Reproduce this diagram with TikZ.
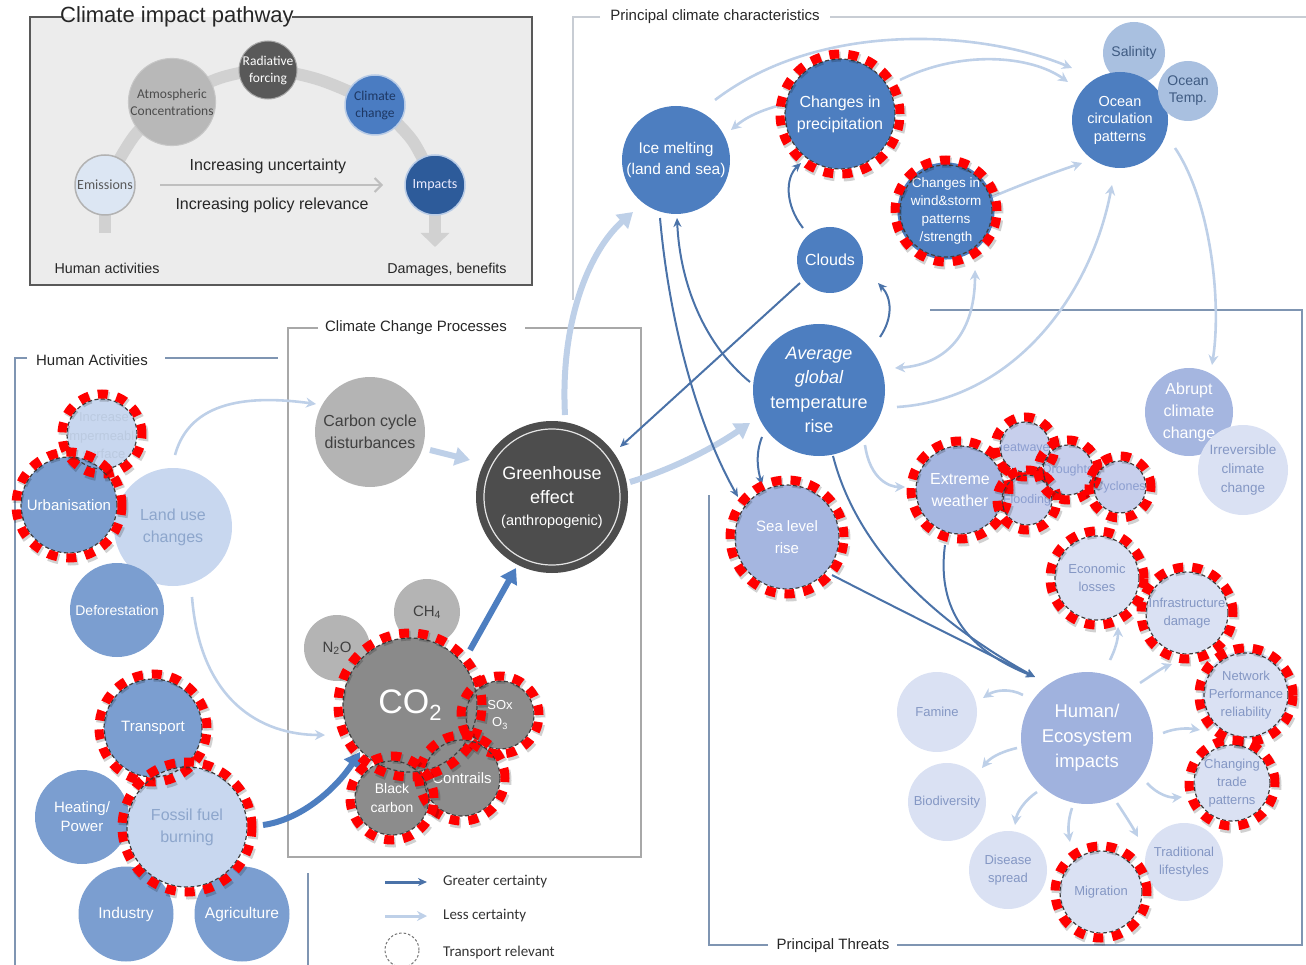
\documentclass[tikz,border=0pt]{standalone}
\usepackage{fontspec}
\setmainfont{Liberation Sans}
\newfontfamily\calfont{Carlito}
\usetikzlibrary{arrows.meta,calc}
\pgfdeclarelayer{bg}
\pgfsetlayers{bg,main}
\newcommand\fs[2]{\fontsize{#1}{#2}\selectfont}
\definecolor{mblue}{HTML}{7B9ED0}
\definecolor{lblue}{HTML}{C8D7EF}
\definecolor{ltxt}{HTML}{8DA6CC}
\definecolor{sblue}{HTML}{4D7EC0}
\definecolor{pblue}{HTML}{A5B6E0}
\definecolor{hblue}{HTML}{A0B2DE}
\definecolor{vlight}{HTML}{DAE1F3}
\definecolor{vtxt}{HTML}{8497C4}
\definecolor{smallc}{HTML}{C7CFEC}
\definecolor{smalltxt}{HTML}{8C9ED0}
\definecolor{darrc}{HTML}{4A72A8}
\definecolor{larrc}{HTML}{BED0E8}
\definecolor{salcol}{HTML}{A9C0E0}
\definecolor{saltxt}{HTML}{3F5B82}
\definecolor{cgray}{HTML}{B4B4B4}
\definecolor{co2gray}{HTML}{8A8A8A}
\definecolor{sgray}{HTML}{8C8C8C}
\definecolor{ghgray}{HTML}{4D4D4D}
\definecolor{insetfill}{HTML}{ECECEC}
\definecolor{hafr}{HTML}{7F95B2}
\definecolor{ccpfr}{HTML}{A8A8A8}
\definecolor{pccfr}{HTML}{C8CDD4}
\definecolor{emfill}{HTML}{DCE6F3}
\definecolor{impfill}{HTML}{2D5B9A}
\definecolor{cctxt}{HTML}{1D3763}
\definecolor{ccfill}{HTML}{4A7CC2}
\definecolor{ringc}{HTML}{B8CBE6}
\newcommand\tring[2]{%
  \draw[black!75, line width=1.2pt, dash pattern=on 4pt off 2.5pt] (#1) circle[radius=#2pt];
  \draw[black, opacity=.18, line width=10pt, dash pattern=on 10pt off 9pt] ($(#1)+(1.5,2.5)$) circle[radius=#2pt+5pt];
  \draw[red, line width=9pt, dash pattern=on 10pt off 9pt] (#1) circle[radius=#2pt+5pt];}
\begin{document}
\begin{tikzpicture}[x=1pt,y=-1pt,
  every node/.style={inner sep=0pt, align=center, text=black!85},
  bub/.style={circle, minimum size=#1, inner sep=0pt},
  darr/.style={draw=darrc, line width=2pt, -{Stealth[length=9pt,width=8pt]}},
  larr/.style={draw=larrc, line width=2.6pt, -{Stealth[length=10pt,width=10pt]}},
  lbig/.style={draw=larrc, line width=6pt, -{Triangle[length=15pt,width=18pt]}},
  bbig/.style={draw=sblue, line width=6pt, -{Triangle[length=15pt,width=18pt]}},
  band/.style={draw=black!18, line width=12pt},
  frtitle/.style={font=\fs{15}{17}, text=black!85}]
\useasboundingbox (0,0) rectangle (1306,965);

% ---------- inset ----------
\node[bub=60pt, fill=emfill, draw=black!30, line width=1.5pt, text=black!65, font=\calfont\fs{14}{16}] (em) at (105,185) {Emissions};
\node[bub=64pt, fill=black!28, draw=black!22, line width=1pt, text=black!70, font=\calfont\fs{13.5}{17}] (atm) at (172,102) {Atmospheric\\Concentrations};
\node[bub=58pt, fill=black!65, draw=black!35, line width=1pt, text=white, font=\calfont\fs{13.5}{17}] (rad) at (268,70) {Radiative\\forcing};
\node[bub=60pt, fill=ccfill, draw=ringc, line width=1.5pt, text=cctxt, font=\calfont\fs{13.5}{17}] (cc) at (375,105) {Climate\\change};
\node[bub=60pt, fill=impfill, draw=ringc, line width=1.5pt, text=blue!8!white, font=\calfont\fs{14}{16}] (imp) at (435,185) {Impacts};
\node[font=\fs{22}{24}, text=black!85] (ttl) at (177,17) {Climate impact pathway};
\node[font=\fs{16}{18}] (iu) at (268,166) {Increasing uncertainty};
\node[font=\fs{16}{18}] (ip) at (272,205) {Increasing policy relevance};
\node[font=\fs{14.3}{16}] (hact) at (107,268) {Human activities};
\node[font=\fs{14.3}{16}] (dmg) at (447,270) {Damages, benefits};

% ---------- frame titles ----------
\node[frtitle] (hatt) at (92,360) {Human Activities};
\node[frtitle] (ccpt) at (416,328) {Climate Change Processes};
\node[frtitle] (pcct) at (715,17) {Principal climate characteristics};
\node[frtitle] (ptt) at (833,946) {Principal Threats};

% ---------- Human activities ----------
\node[bub=70pt, fill=lblue] (inc) at (102,434) {};
\begin{scope}\clip (inc) circle[radius=34pt];
\node[font=\fs{13}{18.5}, text=ltxt!60!white] (inct) at (104,436) {Increase\\impermeable\\surface};
\end{scope}
\node[bub=96pt, fill=mblue, text=white, font=\fs{15}{19}] (urb) at (69,505) {Urbanisation};
\node[bub=118pt, fill=lblue, text=ltxt, font=\fs{16}{22}] (luc) at (173,527) {Land use\\changes};
\node[bub=94pt, fill=mblue, text=white, font=\fs{14}{19}] (def) at (117,610) {Deforestation};
\node[bub=98pt, fill=mblue, text=white, font=\fs{15}{19}] (tra) at (153,728) {Transport};
\node[bub=94pt, fill=mblue, text=white, font=\fs{15}{19}] (hea) at (82,817) {Heating/\\Power};
\node[bub=95pt, fill=mblue, text=white, font=\fs{15.5}{19}] (ind) at (126,914) {Industry};
\node[bub=95pt, fill=mblue, text=white, font=\fs{15.5}{19}] (agr) at (242,914) {Agriculture};
\node[bub=120pt, fill=lblue, text=ltxt, font=\fs{16}{22}] (ffb) at (187,827) {Fossil fuel\\burning};

% ---------- Climate change processes ----------
\node[bub=110pt, fill=cgray, text=black!75, font=\fs{16}{22}] (ccd) at (370,432) {Carbon cycle\\disturbances};
\node[bub=152pt, fill=ghgray, text=white, font=\fs{18}{24}] (ghe) at (552,497) {Greenhouse\\effect\\[-2pt]{\fs{14.5}{23}(anthropogenic)}};
\draw[white!80!gray, line width=1.2pt] (ghe) circle[radius=68pt];
\node[bub=66pt, fill=cgray, text=black!75, font=\fs{15}{17}] (ch4) at (427,612) {CH\textsubscript{4}};
\node[bub=66pt, fill=cgray, text=black!75, font=\fs{15}{17}] (n2o) at (337,648) {N\textsubscript{2}O};
\node[bub=134pt, fill=co2gray, text=white] (co2) at (410,705) {\fs{34}{34}CO\raisebox{-7pt}{\fs{22}{22}2}};
\node[bub=68pt, fill=sgray, text=white, font=\fs{13}{17}] (sox) at (500,715) {SOx\\O\textsubscript{3}};
\node[bub=76pt, fill=sgray, text=white, font=\fs{15}{18}] (ctr) at (462,778) {Contrails};
\node[bub=74pt, fill=sgray, text=white, font=\fs{14}{19}] (blc) at (392,798) {Black\\carbon};

% ---------- Principal climate characteristics ----------
\node[bub=108pt, fill=sblue, text=white, font=\fs{15.5}{21}] (ice) at (676,160) {Ice melting\\(land and sea)};
\node[bub=110pt, fill=sblue, text=white, font=\fs{16}{22}] (pre) at (840,114) {Changes in\\precipitation};
\node[bub=92pt, fill=sblue, text=white, font=\fs{13.5}{18}] (wnd) at (946,211) {Changes in\\wind\&storm\\patterns\\/strength};
\node[bub=66pt, fill=sblue, text=white, font=\fs{16}{20}] (cld) at (830,260) {Clouds};
\node[bub=62pt, fill=salcol, text=saltxt, font=\fs{14}{17}] (sal) at (1134,53) {Salinity};
\node[bub=96pt, fill=sblue, text=white, font=\fs{14.5}{17.5}] (occ) at (1120,120) {Ocean\\circulation\\patterns};
\node[bub=60pt, fill=salcol, text=saltxt, font=\fs{14}{17}] (otp) at (1188,91) {Ocean\\Temp.};
\node[bub=132pt, fill=sblue, text=white, font=\fs{18}{24.5}] (avg) at (819,390) {{\itshape Average}\\{\itshape global}\\temperature\\rise};
\node[bub=104pt, fill=pblue, text=white, font=\fs{15}{22}] (sea) at (787,537) {Sea level\\rise};

% ---------- Principal threats ----------
\node[bub=88pt, fill=pblue, text=white, font=\fs{16}{22}] (abr) at (1189,412) {Abrupt\\climate\\change};
\node[bub=90pt, fill=vlight, text=vtxt, font=\fs{13.5}{19}] (irr) at (1243,470) {Irreversible\\climate\\change};
\node[bub=88pt, fill=pblue, text=white, font=\fs{16}{22}] (ext) at (960,490) {Extreme\\weather};
\node[bub=50pt, fill=smallc] (hw) at (1025,447) {};
\node[bub=50pt, fill=smallc] (dr) at (1068,470) {};
\node[bub=50pt, fill=smallc] (fl) at (1027,500) {};
\node[bub=52pt, fill=smallc] (cy) at (1120,487) {};
\begin{scope}\clip (hw) circle[radius=24pt];\node[text=smalltxt, font=\fs{12.5}{14}] (hwt) at (hw) {Heatwaves};\end{scope}
\begin{scope}\clip (dr) circle[radius=24pt];\node[text=smalltxt, font=\fs{12.5}{14}] (drt) at (dr) {Droughts};\end{scope}
\begin{scope}\clip (fl) circle[radius=24pt];\node[text=smalltxt, font=\fs{12.5}{14}] (flt) at (fl) {Flooding};\end{scope}
\begin{scope}\clip (cy) circle[radius=25pt];\node[text=smalltxt, font=\fs{12.5}{14}] (cyt) at (cy) {Cyclones};\end{scope}
\node[bub=84pt, fill=vlight, text=vtxt, font=\fs{13}{18}] (eco) at (1097,578) {Economic\\losses};
\node[bub=82pt, fill=vlight, text=vtxt, font=\fs{13}{18}] (inf) at (1187,613) {Infrastructure\\damage};
\node[bub=84pt, fill=vlight, text=vtxt, font=\fs{13}{18}] (net) at (1246,695) {Network\\Performance\\reliability};
\node[bub=76pt, fill=vlight, text=vtxt, font=\fs{13}{18}] (chg) at (1232,783) {Changing\\trade\\patterns};
\node[bub=78pt, fill=vlight, text=vtxt, font=\fs{13}{18}] (trd) at (1184,862) {Traditional\\lifestyles};
\node[bub=82pt, fill=vlight, text=vtxt, font=\fs{13}{18}] (mig) at (1101,892) {Migration};
\node[bub=78pt, fill=vlight, text=vtxt, font=\fs{13}{18}] (dis) at (1008,870) {Disease\\spread};
\node[bub=78pt, fill=vlight, text=vtxt, font=\fs{13}{18}] (bio) at (947,802) {Biodiversity};
\node[bub=80pt, fill=vlight, text=vtxt, font=\fs{13}{18}] (fam) at (937,712) {Famine};
\node[bub=132pt, fill=hblue, text=white, font=\fs{18.5}{25}] (hum) at (1087,738) {Human/\\Ecosystem\\impacts};

% ---------- legend ----------
\coordinate (lg1a) at (385,882); \coordinate (lg1b) at (427,882);
\coordinate (lg2a) at (385,916); \coordinate (lg2b) at (427,916);
\node[bub=34pt, draw=black!55, line width=1pt, dash pattern=on 2.5pt off 2pt] (lgc) at (402,950) {};
\node[anchor=west, font=\calfont\fs{15}{18}, text=black!80] (lgt1) at (443,882) {Greater certainty};
\node[anchor=west, font=\calfont\fs{15}{18}, text=black!80] (lgt2) at (443,916) {Less certainty};
\node[anchor=west, font=\calfont\fs{15}{18}, text=black!80] (lgt3) at (443,952) {Transport relevant};

% ---------- background layer: frames and connectors ----------
\begin{pgfonlayer}{bg}
\fill[insetfill] (30,17) rectangle (532,285);
\draw[black!65, line width=2pt] (62,17) -- (30,17) -- (30,285) -- (532,285) -- (532,17) -- (292,17);
\draw[band] (em.center) -- ++(0,48);
\draw[band] plot[smooth] coordinates {(105,185) (135,135) (172,102) (220,78) (268,70) (320,80) (375,105) (412,140) (435,185)};
\draw[band, -{Triangle[length=14pt,width=28pt]}] (imp.center) -- ++(0,62);
\draw[black!25, line width=2pt, -{Straight Barb[length=7pt,width=14pt]}] ($(em)+(55,0)$) -- ($(imp)+(-52,0)$);

\draw[hafr, line width=1.8pt] (27,358) -- (15,358) -- (15,965);
\draw[hafr, line width=1.8pt] (165,358) -- (278,358);
\draw[hafr, line width=1.8pt] (308,873) -- (308,965);
\draw[ccpfr, line width=1.5pt] (318,328) -- (288,328) -- (288,857) -- (641,857) -- (641,328) -- (525,328);
\draw[pccfr, line width=1.5pt] (600,17) -- (573,17) -- (573,300);
\draw[pccfr, line width=1.5pt] (830,17) -- (1306,17);
\draw[hafr, line width=1.8pt] (768,945) -- (709,945) -- (709,495);
\draw[hafr, line width=1.8pt] (897,945) -- (1302,945) -- (1302,310) -- (930,310);

% left connectors
\draw[larr] ($(luc)+(2,-72)$) .. controls (190,400) and (250,395) .. ($(ccd)+(-54,-28)$);
\draw[larr] ($(luc)+(19,70)$) .. controls (200,700) and (260,735) .. ($(co2)+(-85,30)$);
\draw[bbig] ($(ffb)+(76,-2)$) .. controls (300,820) and (335,790) .. ($(co2)+(-50,47)$);
\draw[lbig] ($(ccd)+(60,18)$) -- ($(ghe)+(-82,-37)$);
\draw[bbig] ($(co2)+(60,-55)$) -- ($(ghe)+(-36,71)$);

% right connectors
\draw[lbig] ($(ghe)+(13,-82)$) .. controls (560,320) and (590,250) .. ($(ice)+(-43,52)$);
\draw[lbig] ($(ghe)+(78,-15)$) .. controls (670,470) and (710,450) .. ($(avg)+(-69,33)$);
\draw[darr] ($(cld)+(-30,23)$) -- ($(ghe)+(68,-50)$);
\draw[darr] ($(ice)+(-16,58)$) .. controls (670,330) and (700,430) .. ($(sea)+(-49,-40)$);
\draw[darr] ($(avg)+(-69,-8)$) .. controls (705,345) and (680,285) .. ($(ice)+(1,58)$);
\draw[darr] ($(cld)+(-27,-32)$) .. controls (785,205) and (785,178) .. ($(pre)+(-39,49)$);
\draw[darr] ($(avg)+(61,-53)$) .. controls (893,318) and (892,298) .. ($(cld)+(48,23)$);
\draw[larr] ($(pre)+(-55,-10)$) .. controls (760,110) and (745,118) .. ($(ice)+(55,-30)$);
\draw[larr] ($(ice)+(39,-60)$) .. controls (820,20) and (980,30) .. ($(occ)+(-48,-52)$);
\draw[larr] ($(pre)+(60,-34)$) .. controls (960,50) and (1030,55) .. ($(occ)+(-52,-38)$);
\draw[larr] ($(wnd)+(46,-14)$) .. controls (1020,185) and (1055,172) .. ($(occ)+(-38,43)$);
\draw[larr] ($(avg)+(78,17)$) .. controls (1010,400) and (1090,300) .. ($(occ)+(-8,65)$);
\draw[larr] ($(occ)+(55,28)$) .. controls (1210,200) and (1222,300) .. ($(abr)+(23,-47)$);
\draw[larr, {Stealth[length=10pt,width=10pt]}-{Stealth[length=10pt,width=10pt]}] ($(wnd)+(29,59)$) .. controls (975,340) and (940,365) .. ($(avg)+(76,-22)$);
\draw[larr] ($(avg)+(46,55)$) .. controls (870,480) and (890,487) .. ($(ext)+(-55,-3)$);
\draw[darr] ($(avg)+(-57,47)$) .. controls (755,455) and (758,470) .. ($(sea)+(-25,-52)$);
\draw[darr] ($(avg)+(14,66)$) .. controls (860,560) and (950,630) .. ($(hum)+(-52,-61)$);
\draw[darr] ($(sea)+(45,38)$) .. controls (900,610) and (980,650) .. ($(hum)+(-52,-61)$);
\draw[darr] ($(ext)+(-15,55)$) .. controls (935,620) and (980,655) .. ($(hum)+(-52,-61)$);

% threat connectors
\draw[larr] ($(hum)+(-64,-43)$) .. controls (1010,688) and (995,690) .. ($(fam)+(46,-14)$);
\draw[larr] ($(hum)+(-70,10)$) .. controls (1000,752) and (990,758) .. ($(bio)+(35,-34)$);
\draw[larr] ($(hum)+(-50,54)$) .. controls (1025,800) and (1017,812) .. ($(dis)+(7,-45)$);
\draw[larr] ($(hum)+(-15,70)$) .. controls (1068,820) and (1068,830) .. ($(mig)+(-31,-50)$);
\draw[larr] ($(hum)+(30,65)$) .. controls (1125,815) and (1132,826) .. ($(trd)+(-46,-25)$);
\draw[larr] ($(hum)+(60,45)$) .. controls (1158,795) and (1170,798) .. ($(chg)+(-50,14)$);
\draw[larr] ($(hum)+(76,-5)$) .. controls (1175,728) and (1188,728) .. ($(net)+(-46,35)$);
\draw[larr] ($(hum)+(53,-55)$) .. controls (1152,675) and (1162,668) .. ($(inf)+(-15,51)$);
\draw[larr] ($(hum)+(23,-78)$) .. controls (1115,650) and (1118,640) .. ($(eco)+(21,49)$);

% legend arrows
\draw[darr, line width=3pt] (lg1a) -- (lg1b);
\draw[larr, line width=3pt] (lg2a) -- (lg2b);
\end{pgfonlayer}

% ---------- transport relevant rings ----------
\tring{inc}{35}
\tring{urb}{48}
\tring{tra}{49}
\tring{ffb}{60}
\tring{co2}{67}
\tring{sox}{34}
\tring{ctr}{38}
\tring{blc}{37}
\tring{pre}{55}
\tring{wnd}{46}
\tring{sea}{52}
\tring{ext}{44}
\tring{hw}{25}
\tring{fl}{25}
\tring{dr}{25}
\tring{cy}{26}
\tring{eco}{42}
\tring{inf}{41}
\tring{net}{42}
\tring{chg}{38}
\tring{mig}{41}
\end{tikzpicture}
\end{document}
